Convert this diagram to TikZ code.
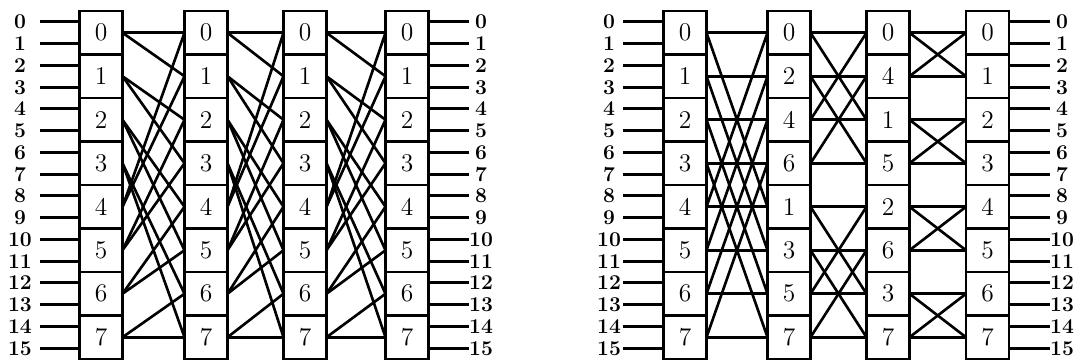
\documentclass[tikz,border=0pt]{standalone}
\usepackage{tikz}
\begin{document}
\begin{tikzpicture}[x=0.02cm, y=-0.02cm,
    sw/.style={draw, line width=1.5pt, minimum width=0.86cm, minimum height=0.87cm,
      inner sep=0pt, outer sep=0pt, font=\fontsize{14.5}{16}\selectfont},
    wire/.style={line width=1.5pt},
    lab/.style={inner sep=0pt, font=\fontsize{12}{13}\selectfont\bfseries}
]
\useasboundingbox (0,0) rectangle (1074,360);

% left network: four columns of switches
\foreach \c/\x in {1/101, 2/206, 3/305, 4/407}
  \foreach \r in {0,...,7}
    \node[sw] (L\c-\r) at (\x, 32.75+43.5*\r) {\r};

% right network
\foreach \n [count=\r from 0] in {0,1,2,3,4,5,6,7}
  \node[sw] (R1-\r) at (685, 32.75+43.5*\r) {\n};
\foreach \n [count=\r from 0] in {0,2,4,6,1,3,5,7}
  \node[sw] (R2-\r) at (789, 32.75+43.5*\r) {\n};
\foreach \n [count=\r from 0] in {0,4,1,5,2,6,3,7}
  \node[sw] (R3-\r) at (888, 32.75+43.5*\r) {\n};
\foreach \n [count=\r from 0] in {0,1,2,3,4,5,6,7}
  \node[sw] (R4-\r) at (987.5, 32.75+43.5*\r) {\n};

% shuffle links
\foreach \a/\b in {1/2, 2/3, 3/4}
  \foreach \s in {0,...,7} {
    \pgfmathtruncatemacro\up{mod(2*\s,8)}
    \pgfmathtruncatemacro\dn{mod(2*\s+1,8)}
    \draw[wire] (L\a-\s.east) -- (L\b-\up.west);
    \draw[wire] (L\a-\s.east) -- (L\b-\dn.west);
  }

\foreach \a/\b/\d in {1/2/4, 2/3/2, 3/4/1}
  \foreach \s in {0,...,7} {
    \pgfmathtruncatemacro\p{\s+\d*(1-2*mod(floor(\s/\d),2))}
    \draw[wire] (R\a-\s.east) -- (R\b-\s.west);
    \draw[wire] (R\a-\s.east) -- (R\b-\p.west);
  }

% inputs and outputs
\foreach \k in {0,...,15} {
  \pgfmathtruncatemacro\r{floor(\k/2)}
  \pgfmathsetmacro\y{21.75+43.5*\r+22*mod(\k,2)}
  \node[lab] (lin\k) at (20,\y) {\k};
  \coordinate (lia\k) at (40,\y);
  \draw[wire] (lia\k) -- (lia\k -| L1-\r.west);
  \coordinate (lob\k) at (469,\y);
  \draw[wire] (lob\k -| L4-\r.east) -- (lob\k);
  \node[lab] (lout\k) at (481,\y) {\k};
  \node[lab] (rin\k) at (609,\y) {\k};
  \coordinate (ria\k) at (623,\y);
  \draw[wire] (ria\k) -- (ria\k -| R1-\r.west);
  \coordinate (rob\k) at (1050,\y);
  \draw[wire] (rob\k -| R4-\r.east) -- (rob\k);
  \node[lab] (rout\k) at (1062,\y) {\k};
}
\end{tikzpicture}
\end{document}
